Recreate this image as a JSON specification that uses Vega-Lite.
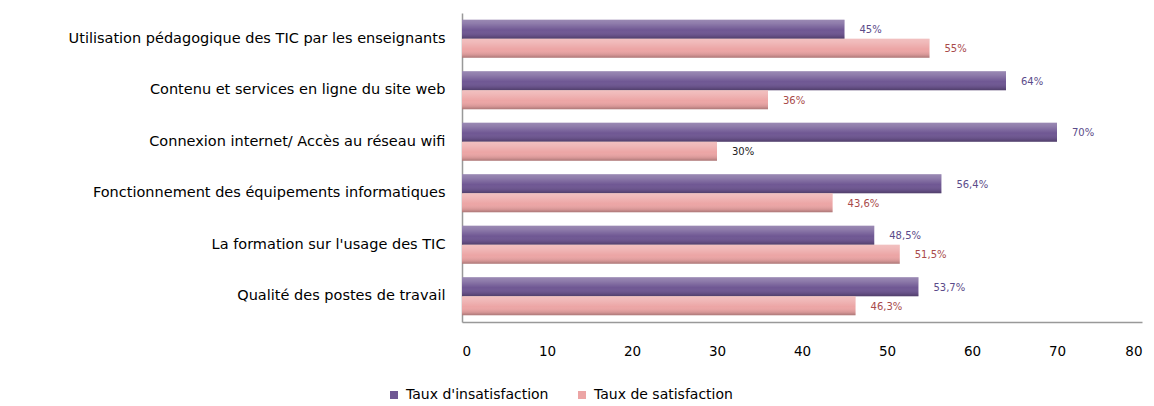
{
  "$schema": "https://vega.github.io/schema/vega-lite/v6.json",
  "width": 680,
  "height": 309,
  "padding": {"left": 0, "top": 13, "right": 10, "bottom": 10},
  "background": "white",
  "config": {"view": {"stroke": null}, "font": "DejaVu Sans"},
  "data": {"values": [
    {"cat": "Utilisation pédagogique des TIC par les enseignants", "serie": "Taux d'insatisfaction", "v": 45, "label": "45%"},
    {"cat": "Utilisation pédagogique des TIC par les enseignants", "serie": "Taux de satisfaction", "v": 55, "label": "55%"},
    {"cat": "Contenu et services en ligne du site web", "serie": "Taux d'insatisfaction", "v": 64, "label": "64%"},
    {"cat": "Contenu et services en ligne du site web", "serie": "Taux de satisfaction", "v": 36, "label": "36%"},
    {"cat": "Connexion internet/ Accès au réseau wifi", "serie": "Taux d'insatisfaction", "v": 70, "label": "70%"},
    {"cat": "Connexion internet/ Accès au réseau wifi", "serie": "Taux de satisfaction", "v": 30, "label": "30%"},
    {"cat": "Fonctionnement des équipements informatiques", "serie": "Taux d'insatisfaction", "v": 56.4, "label": "56,4%"},
    {"cat": "Fonctionnement des équipements informatiques", "serie": "Taux de satisfaction", "v": 43.6, "label": "43,6%"},
    {"cat": "La formation sur l'usage des TIC", "serie": "Taux d'insatisfaction", "v": 48.5, "label": "48,5%"},
    {"cat": "La formation sur l'usage des TIC", "serie": "Taux de satisfaction", "v": 51.5, "label": "51,5%"},
    {"cat": "Qualité des postes de travail", "serie": "Taux d'insatisfaction", "v": 53.7, "label": "53,7%"},
    {"cat": "Qualité des postes de travail", "serie": "Taux de satisfaction", "v": 46.3, "label": "46,3%"}
  ]},
  "encoding": {
    "y": {"field": "cat", "type": "nominal", "sort": null,
      "scale": {"paddingInner": 0.26, "paddingOuter": 0.13},
      "axis": {"title": null, "ticks": false, "domainColor": "#999999", "domainWidth": 1.5,
        "labelFont": "DejaVu Sans", "labelFontSize": 14.5, "labelFontWeight": "normal", "labelColor": "#000000", "labelPadding": 17,
        "minExtent": 462, "maxExtent": 462, "labelLimit": 500}},
    "yOffset": {"field": "serie", "type": "nominal", "sort": ["Taux d'insatisfaction", "Taux de satisfaction"]},
    "x": {"field": "v", "type": "quantitative",
      "scale": {"domain": [0, 80], "nice": false},
      "axis": {"title": null, "grid": false, "ticks": false, "values": [0,10,20,30,40,50,60,70,80],
        "domainColor": "#999999", "domainWidth": 1.5, "labelFont": "DejaVu Sans", "labelFontSize": 13.5, "labelFontWeight": "normal",
        "labelColor": "#000000", "labelPadding": 22}}
  },
  "layer": [
    {"mark": {"type": "bar"},
     "encoding": {"color": {"field": "serie", "type": "nominal",
        "scale": {"domain": ["Taux d'insatisfaction", "Taux de satisfaction"], "range": ["#6f5793", "#eca5a5"]},
        "legend": {"title": null, "orient": "none", "legendX": -75, "legendY": 375, "direction": "horizontal",
          "symbolType": "square", "symbolSize": 64, "symbolStrokeWidth": 0, "labelFont": "DejaVu Sans",
          "labelFontSize": 14, "labelFontWeight": "normal", "labelColor": "#000000", "columnPadding": 26, "labelOffset": 5}}}},
    {"mark": {"type": "bar", "fill": {"gradient": "linear", "x1": 0, "y1": 0, "x2": 0, "y2": 1,
        "stops": [
          {"offset": 0, "color": "rgba(255,255,255,0.30)"},
          {"offset": 0.2, "color": "rgba(255,255,255,0.22)"},
          {"offset": 0.55, "color": "rgba(255,255,255,0.0)"},
          {"offset": 0.85, "color": "rgba(0,0,0,0.10)"},
          {"offset": 1, "color": "rgba(0,0,0,0.28)"}]}}},
    {"mark": {"type": "text", "align": "left", "dx": 15, "dy": 1, "fontSize": 10, "font": "DejaVu Sans"},
     "encoding": {"text": {"field": "label"},
       "color": {"condition": [{"test": "datum.label === '30%'", "value": "#222222"},
         {"test": "datum.serie === 'Taux de satisfaction'", "value": "#a84a4a"}], "value": "#5b4b8a"}}}
  ]
}
